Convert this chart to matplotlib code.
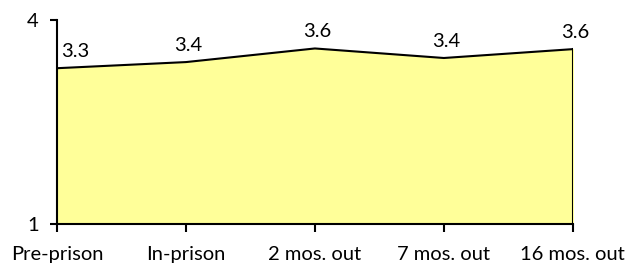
import numpy as np
import matplotlib.pyplot as plt

plt.rcParams['font.family'] = ['Lato', 'DejaVu Sans']

# data
stages = ['Pre-prison', 'In-prison', '2 mos. out', '7 mos. out', '16 mos. out']
scores = [3.29, 3.38, 3.58, 3.44, 3.57]
score_labels = ['3.3', '3.4', '3.6', '3.4', '3.6']
y_ticks = [1, 4]

fs = 14.5

fig = plt.figure(figsize=(6.26, 2.76), dpi=100)
ax = fig.add_axes([0.091, 0.188, 0.824, 0.74])

x = np.arange(len(stages))
ax.fill_between(x, 1, scores, color='#FFFF99', zorder=1)
ax.plot(x, scores, color='black', lw=1.5, zorder=3)
ax.plot([x[-1], x[-1]], [1, scores[-1]], color='black', lw=1.5, zorder=3)

for i, (xi, yi, lab) in enumerate(zip(x, scores, score_labels)):
    if i == 0:
        ax.annotate(lab, (xi, yi), xytext=(3, 6), textcoords='offset points',
                    ha='left', va='bottom', fontsize=fs)
    else:
        ax.annotate(lab, (xi, yi), xytext=(2, 6), textcoords='offset points',
                    ha='center', va='bottom', fontsize=fs)

ax.set_xlim(0, len(stages) - 1)
ax.set_ylim(1, 4)
ax.set_xticks(x)
ax.set_xticklabels(stages, fontsize=fs)
ax.set_yticks(y_ticks)
ax.set_yticklabels([str(t) for t in y_ticks], fontsize=fs)

for s in ['top', 'right']:
    ax.spines[s].set_visible(False)
for s in ['left', 'bottom']:
    ax.spines[s].set_linewidth(1.5)
    ax.spines[s].set_zorder(4)
ax.tick_params(axis='x', length=6, width=1.5, pad=10)
ax.tick_params(axis='y', length=5, width=1.5, pad=8)

fig.savefig('out.png', dpi=100)
